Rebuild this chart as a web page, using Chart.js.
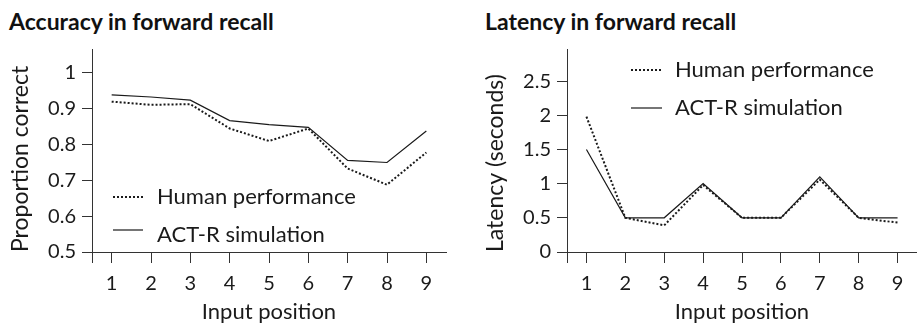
<!DOCTYPE html>
<html>
<head>
<meta charset="utf-8">
<script src="https://cdn.jsdelivr.net/npm/chart.js@4/dist/chart.umd.min.js"></script>
<style>
  body { margin: 0; background: #fff; }
  #wrap { position: relative; width: 917px; height: 325px; overflow: hidden; }
  #wrap canvas { position: absolute; top: 0; }
  .ttl { position: absolute; top: 9px; font: bold 23px Lato, sans-serif; line-height: 25px; color: #111; white-space: nowrap; }
</style>
</head>
<body>
<div id="wrap">
  <div class="ttl" style="left:9px">Accuracy in forward recall</div>
  <div class="ttl" style="left:485px">Latency in forward recall</div>
  <canvas id="acc" width="460" height="325" style="left:0"></canvas>
  <canvas id="lat" width="457" height="325" style="left:460px"></canvas>
</div>
<script>
// values
var positions = ['1', '2', '3', '4', '5', '6', '7', '8', '9'];
var seriesNames = ['Human performance', 'ACT-R simulation'];
var accHuman = [0.92, 0.911, 0.913, 0.845, 0.81, 0.845, 0.733, 0.688, 0.778];
var accModel = [0.939, 0.933, 0.924, 0.867, 0.856, 0.848, 0.756, 0.75, 0.838];
var latHuman = [1.98, 0.5, 0.39, 0.98, 0.5, 0.5, 1.06, 0.5, 0.43];
var latModel = [1.5, 0.5, 0.5, 1.0, 0.5, 0.5, 1.1, 0.5, 0.5];

var ink = '#1a1a1a';
var axisInk = '#333';
var FONT = 'Lato, sans-serif';

// legend drawn inside the plot area, no box
var innerLegend = {
  id: 'innerLegend',
  afterDatasetsDraw(chart, args, opts) {
    var ctx = chart.ctx, area = chart.chartArea;
    ctx.save();
    ctx.font = opts.fontSize + 'px ' + FONT;
    ctx.fillStyle = ink;
    ctx.textBaseline = 'alphabetic';
    chart.data.datasets.forEach(function(ds, i) {
      var base = area.top + opts.baselines[i];
      var ly = base - opts.rise[i];
      ctx.beginPath();
      ctx.strokeStyle = ds.borderColor;
      ctx.lineWidth = ds.borderWidth;
      ctx.setLineDash(ds.borderDash || []);
      ctx.moveTo(area.left + opts.x, ly);
      ctx.lineTo(area.left + opts.x + opts.sample, ly);
      ctx.stroke();
      ctx.setLineDash([]);
      ctx.fillText(ds.label, area.left + opts.x + opts.sample + opts.gap, base);
    });
    ctx.restore();
  }
};

// the y axis line runs on a little below the x axis
var axisStub = {
  id: 'axisStub',
  afterDraw(chart) {
    var ctx = chart.ctx, area = chart.chartArea;
    ctx.save();
    ctx.strokeStyle = axisInk;
    ctx.lineWidth = 1;
    ctx.beginPath();
    ctx.moveTo(Math.round(area.left) + 0.5, area.bottom);
    ctx.lineTo(Math.round(area.left) + 0.5, area.bottom + 11);
    ctx.stroke();
    ctx.restore();
  }
};

function fmt(v) { return String(+v.toFixed(2)); }

function makeChart(id, human, model, cfg) {
  var ctx = document.getElementById(id).getContext('2d');
  return new Chart(ctx, {
    type: 'line',
    data: {
      labels: positions,
      datasets: [
        { label: seriesNames[0], data: human, borderColor: ink, borderWidth: 2, borderDash: [2, 2],
          pointRadius: 0, tension: 0, fill: false },
        { label: seriesNames[1], data: model, borderColor: ink, borderWidth: 1.2,
          pointRadius: 0, tension: 0, fill: false }
      ]
    },
    options: {
      responsive: false,
      animation: false,
      devicePixelRatio: 1,
      layout: { padding: { top: 49, right: cfg.padRight, left: 0, bottom: 0 } },
      plugins: {
        legend: { display: false },
        tooltip: { enabled: false },
        innerLegend: cfg.legend
      },
      scales: {
        x: {
          type: 'category',
          offset: true,
          grid: { display: true, drawOnChartArea: false, drawTicks: true, tickLength: 11, color: axisInk, lineWidth: 1 },
          border: { display: true, color: axisInk, width: 1 },
          ticks: { color: ink, font: { family: FONT, size: 20 }, padding: 9, maxRotation: 0, autoSkip: false },
          title: { display: true, text: 'Input position', color: ink, font: { family: FONT, size: 22 }, padding: { top: 0, bottom: 0 } },
          afterFit: function(s) { s.height = 73; }
        },
        y: {
          type: 'linear',
          min: cfg.min, max: cfg.max,
          grid: { display: true, drawOnChartArea: false, drawTicks: true, tickLength: 10, color: axisInk, lineWidth: 1 },
          border: { display: true, color: axisInk, width: 1 },
          ticks: { stepSize: cfg.step, includeBounds: false, color: ink, font: { family: FONT, size: 20 }, padding: 6, callback: fmt },
          title: { display: true, text: cfg.yTitle, align: 'start', color: ink, font: { family: FONT, size: 23 }, padding: { top: cfg.yTitlePad, bottom: 0 } },
          afterFit: function(s) { s.width = cfg.yWidth; }
        }
      }
    },
    plugins: [innerLegend, axisStub]
  });
}

makeChart('acc', accHuman, accModel, {
  min: 0.5, max: 1.067, step: 0.1, yTitle: 'Proportion correct', yTitlePad: 7,
  yWidth: 92, padRight: 14,
  legend: { x: 21, sample: 30, gap: 14, fontSize: 22, baselines: [155, 193], rise: [7, 12] }
});

makeChart('lat', latHuman, latModel, {
  min: 0, max: 2.97, step: 0.5, yTitle: 'Latency (seconds)', yTitlePad: 22,
  yWidth: 107, padRight: 0,
  legend: { x: 64, sample: 31, gap: 13, fontSize: 22, baselines: [28, 66], rise: [7, 7] }
});
</script>
</body>
</html>
